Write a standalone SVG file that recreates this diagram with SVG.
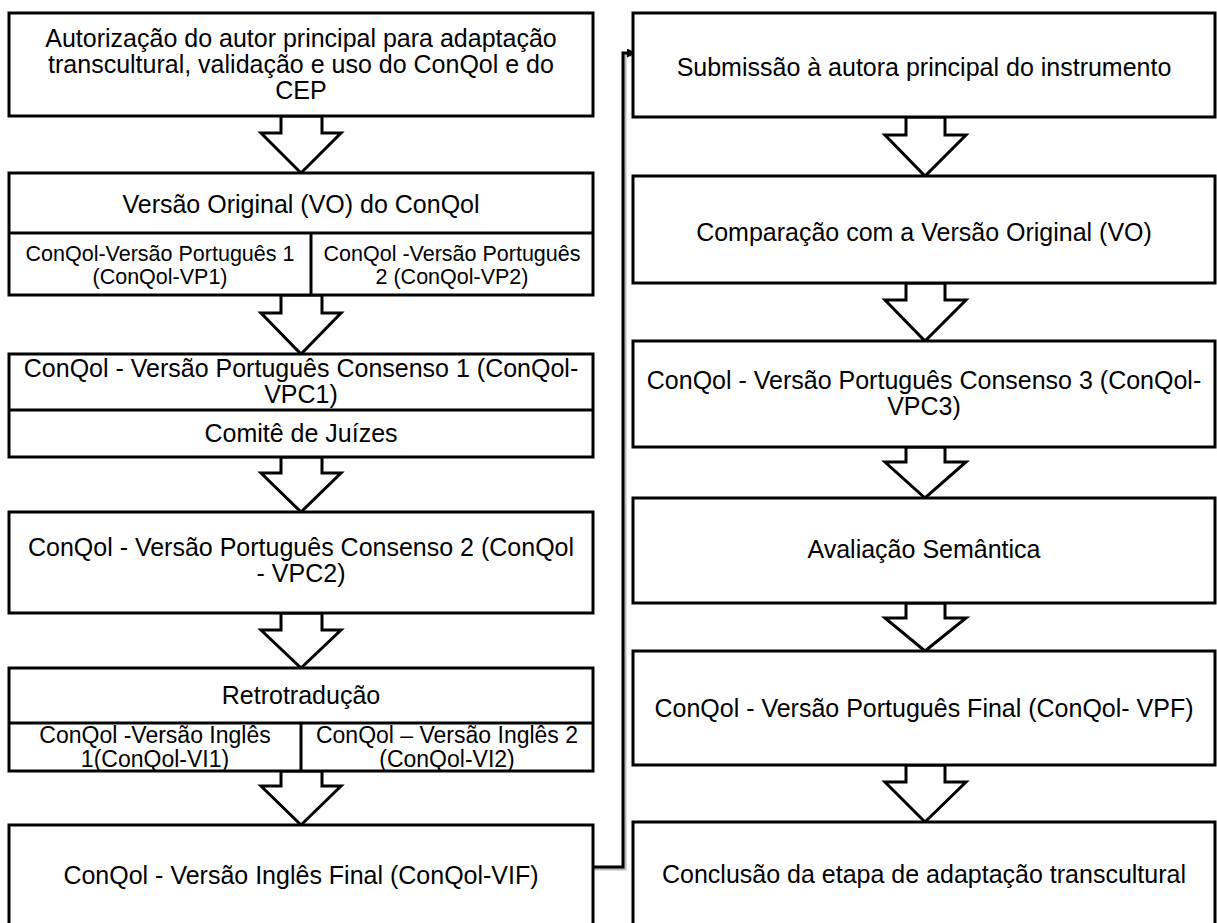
<svg xmlns="http://www.w3.org/2000/svg" width="1217" height="923" viewBox="0 0 1217 923">
<defs>
<style>
.b{fill:#fff;stroke:#000;stroke-width:3}
.l{fill:none;stroke:#000;stroke-width:3}
.t{font-family:"Liberation Sans",Arial,sans-serif;font-size:25px;fill:#000;text-anchor:middle;dominant-baseline:central}
.s{font-family:"Liberation Sans",Arial,sans-serif;font-size:21.5px;fill:#000;text-anchor:middle;dominant-baseline:central}
.r{font-family:"Liberation Sans",Arial,sans-serif;font-size:23px;fill:#000;text-anchor:middle;dominant-baseline:central}
.a{fill:#fff;stroke:#000;stroke-width:3;stroke-linejoin:miter}
</style>
<marker id="ah" markerWidth="9" markerHeight="9" refX="7" refY="4.5" orient="auto" markerUnits="userSpaceOnUse">
<path d="M0,0 L9,4.5 L0,9 Z" fill="#000"/>
</marker>
</defs>
<rect width="1217" height="923" fill="#fff"/>

<g id="connectors">
<polyline points="593,869 625,869 625,55 634,55" fill="none" stroke="#bbb" stroke-width="3"/>
<polyline points="593,867 623,867 623,53 634,53" class="l" marker-end="url(#ah)"/>
<polygon class="a" points="281,116 281,133 261,133 301,173 341,133 322,133 322,116"/>
<polygon class="a" points="281,295 281,313 261,313 301,354 341,313 322,313 322,295"/>
<polygon class="a" points="281,457 281,473 261,473 301,512 341,473 322,473 322,457"/>
<polygon class="a" points="281,613 281,630 261,630 301,668 341,630 322,630 322,613"/>
<polygon class="a" points="281,771 281,786 261,786 301,825 341,786 322,786 322,771"/>
<polygon class="a" points="906,117 906,135 885,135 925,176 966,135 945,135 945,117"/>
<polygon class="a" points="906,283 906,300 885,300 925,341 966,300 945,300 945,283"/>
<polygon class="a" points="906,447 906,462 885,462 925,498 966,462 945,462 945,447"/>
<polygon class="a" points="906,603 906,618 885,618 925,651 966,618 945,618 945,603"/>
<polygon class="a" points="906,765 906,782 885,782 925,822 966,782 945,782 945,765"/>
</g>

<g id="n1">
<rect class="b" x="9" y="13" width="584" height="103"/>
<text class="t" x="301" y="38">Autorização do autor principal para adaptação</text>
<text class="t" x="301" y="64">transcultural, validação e uso do ConQol e do</text>
<text class="t" x="301" y="90">CEP</text>
</g>
<g id="n2">
<rect class="b" x="9" y="173" width="584" height="122"/>
<line class="l" x1="9" y1="233" x2="593" y2="233"/>
<line class="l" x1="311" y1="233" x2="311" y2="295"/>
<text class="t" x="301" y="204">Versão Original (VO) do ConQol</text>
<text class="s" x="160" y="254">ConQol-Versão Português  1</text>
<text class="s" x="160" y="277">(ConQol-VP1)</text>
<text class="s" x="452" y="254">ConQol -Versão Português</text>
<text class="s" x="452" y="277">2 (ConQol-VP2)</text>
</g>
<g id="n3">
<rect class="b" x="9" y="354" width="584" height="103"/>
<line class="l" x1="9" y1="410" x2="593" y2="410"/>
<text class="t" x="301" y="368">ConQol - Versão Português Consenso 1 (ConQol-</text>
<text class="t" x="301" y="394">VPC1)</text>
<text class="t" x="301" y="433">Comitê de Juízes</text>
</g>
<g id="n4">
<rect class="b" x="9" y="512" width="584" height="101"/>
<text class="t" x="301" y="547">ConQol - Versão Português Consenso 2 (ConQol</text>
<text class="t" x="301" y="573">- VPC2)</text>
</g>
<g id="n5">
<rect class="b" x="9" y="668" width="584" height="103"/>
<line class="l" x1="9" y1="723" x2="593" y2="723"/>
<line class="l" x1="301" y1="723" x2="301" y2="771"/>
<text class="t" x="301" y="695">Retrotradução</text>
<text class="r" x="155" y="735">ConQol -Versão Inglês</text>
<text class="r" x="155" y="759">1(ConQol-VI1)</text>
<text class="r" x="447" y="735">ConQol – Versão Inglês 2</text>
<text class="r" x="447" y="759">(ConQol-VI2)</text>
</g>
<g id="n6">
<rect class="b" x="9" y="825" width="584" height="110"/>
<text class="t" x="301" y="875">ConQol - Versão Inglês Final (ConQol-VIF)</text>
</g>

<g id="r1">
<rect class="b" x="633" y="13" width="582" height="104"/>
<text class="t" x="924" y="67">Submissão à autora principal do instrumento</text>
</g>
<g id="r2">
<rect class="b" x="633" y="176" width="582" height="107"/>
<text class="t" x="924" y="232">Comparação com a Versão Original (VO)</text>
</g>
<g id="r3">
<rect class="b" x="633" y="341" width="582" height="106"/>
<text class="t" x="924" y="380">ConQol - Versão Português Consenso 3 (ConQol-</text>
<text class="t" x="924" y="406">VPC3)</text>
</g>
<g id="r4">
<rect class="b" x="633" y="498" width="582" height="105"/>
<text class="t" x="924" y="549">Avaliação Semântica</text>
</g>
<g id="r5">
<rect class="b" x="633" y="651" width="582" height="114"/>
<text class="t" x="924" y="708">ConQol - Versão Português Final (ConQol- VPF)</text>
</g>
<g id="r6">
<rect class="b" x="633" y="822" width="582" height="113"/>
<text class="t" x="924" y="874">Conclusão da etapa de adaptação transcultural</text>
</g>
</svg>
